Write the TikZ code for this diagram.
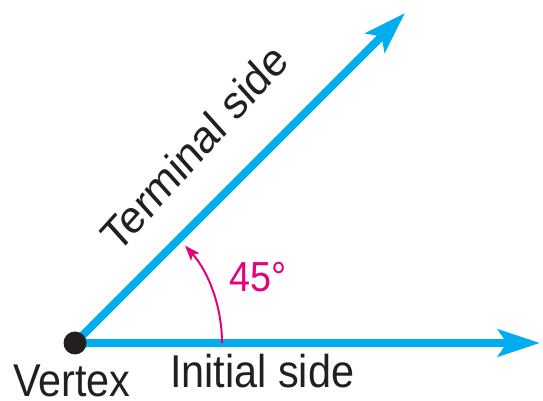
\documentclass[tikz,border=0pt]{standalone}
\usepackage{fontspec}
\setmainfont{Liberation Sans}
\usetikzlibrary{arrows.meta}
\definecolor{sideblue}{HTML}{00AEEF}
\definecolor{anglemag}{HTML}{E6007E}
\definecolor{inkgray}{HTML}{231F20}
\tikzset{
  side/.style={draw=sideblue, line width=8pt, -{Stealth[length=42pt, width=27pt, inset=9pt]}},
  anglearc/.style={draw=anglemag, line width=2pt, -{Stealth[length=15pt, width=11pt, inset=3pt]}},
  lbl/.style={text=inkgray, font=\fontsize{46}{52}\selectfont, inner sep=0pt, xscale=0.9, transform shape, anchor=base west},
  anglelbl/.style={text=anglemag, font=\fontsize{42}{50}\selectfont, inner sep=0pt, xscale=0.9, transform shape}
}
\begin{document}
\begin{tikzpicture}[x=1pt, y=1pt]
\useasboundingbox (0,0) rectangle (543,401);
\coordinate (V) at (75,58);
\coordinate (I) at (540,58);
\coordinate (T) at (405,388);
\coordinate (A0) at (222,58);
\draw[side] (V) -- (I);
\draw[side] (V) -- (T);
\draw[anglearc] (A0) arc[start angle=0, end angle=41.5, radius=147];
\fill[inkgray] (V) circle[radius=11.5];
\node[lbl] (vtx) at (13,4) {Vertex};
\node[lbl] (ini) at (170,13) {Initial side};
\node[lbl, rotate=45] (ter) at (118,146) {Terminal side};
\node[anglelbl] (ang) at (258,124) {45°};
\end{tikzpicture}
\end{document}
